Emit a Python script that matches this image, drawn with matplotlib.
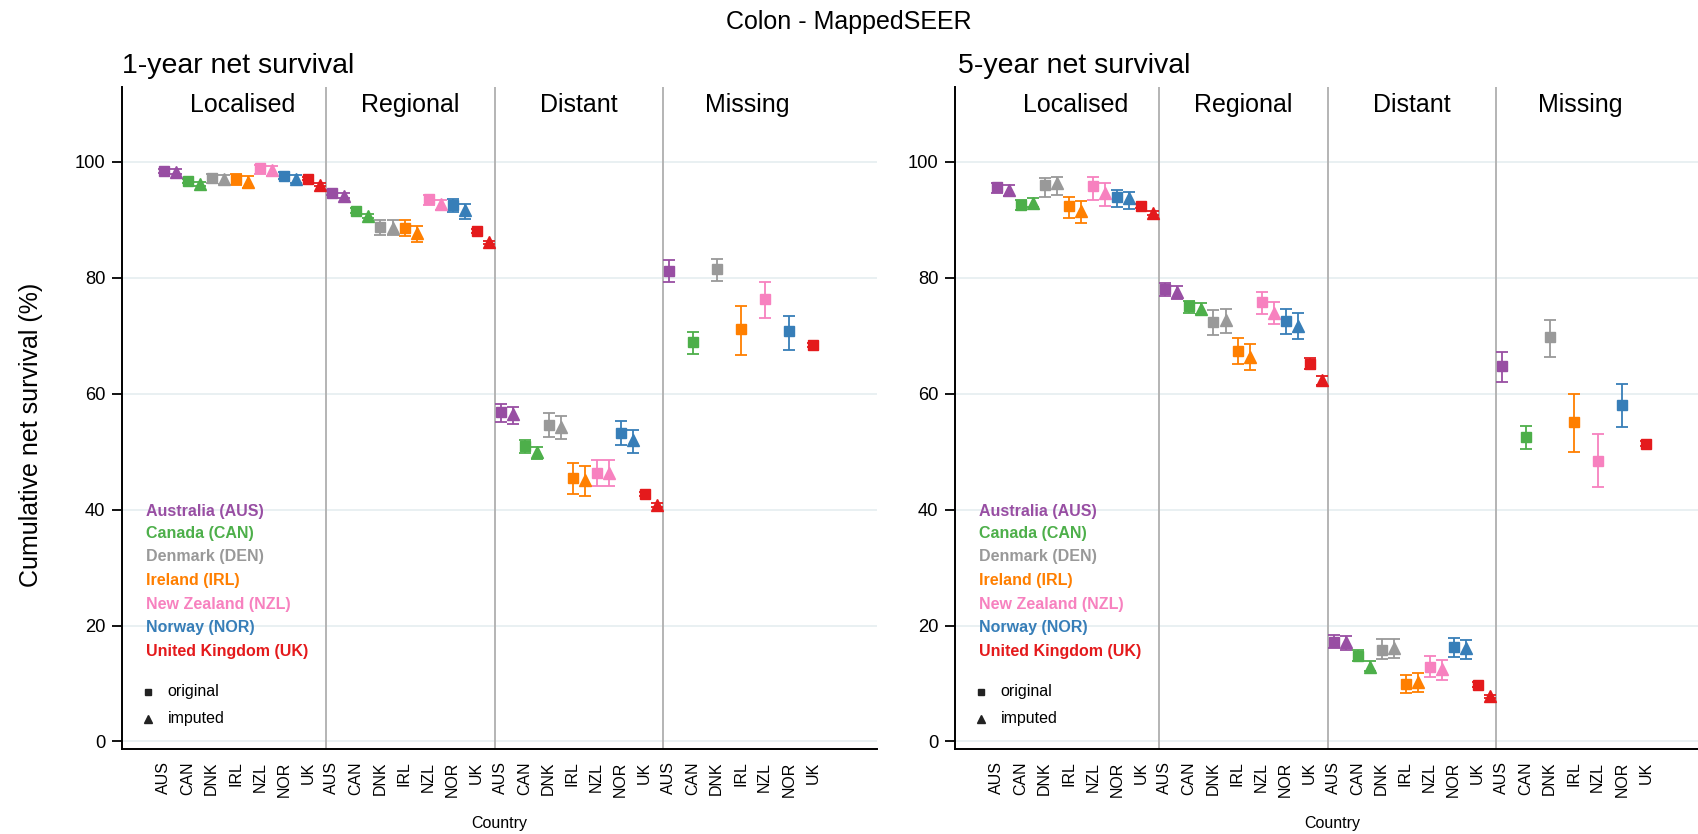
import matplotlib
matplotlib.use('Agg')
import matplotlib.pyplot as plt

plt.rcParams['font.family'] = ['Liberation Sans', 'DejaVu Sans']

# ---------------- data ----------------
countries = ['AUS', 'CAN', 'DNK', 'IRL', 'NZL', 'NOR', 'UK']
legend_names = ['Australia (AUS)', 'Canada (CAN)', 'Denmark (DEN)', 'Ireland (IRL)',
                'New Zealand (NZL)', 'Norway (NOR)', 'United Kingdom (UK)']
colors = ['#984ea3', '#4daf4a', '#999999', '#ff7f00', '#f781bf', '#377eb8', '#e41a1c']
stages = ['Localised', 'Regional', 'Distant', 'Missing']

# 1-year net survival: original (square)
y1_orig = [[98.45, 96.7, 97.2, 97.1, 98.9, 97.6, 97.1],
           [94.7, 91.6, 88.7, 88.6, 93.6, 92.5, 88.1],
           [56.8, 50.9, 54.6, 45.4, 46.3, 53.2, 42.7],
           [81.2, 68.9, 81.5, 71.2, 76.4, 70.8, 68.4]]
y1_orig_lo = [[98.1, 96.4, 96.4, 96.0, 98.0, 97.0, 96.8],
              [94.3, 91.2, 87.4, 87.2, 92.5, 91.4, 87.8],
              [55.2, 49.7, 52.5, 42.7, 44.0, 51.1, 42.3],
              [79.3, 66.8, 79.5, 66.7, 73.1, 67.5, 68.0]]
y1_orig_hi = [[98.8, 97.0, 98.0, 97.9, 99.5, 98.3, 97.4],
              [95.1, 92.0, 89.9, 89.9, 94.3, 93.6, 88.4],
              [58.2, 52.0, 56.7, 48.1, 48.6, 55.3, 43.1],
              [83.1, 70.7, 83.3, 75.1, 79.2, 73.4, 68.8]]
# 1-year net survival: imputed (triangle)
y1_imp = [[98.3, 96.2, 97.0, 96.6, 98.6, 97.0, 96.1],
          [94.2, 90.7, 88.6, 87.7, 92.7, 91.7, 86.1],
          [56.5, 49.9, 54.3, 45.1, 46.3, 52.0, 40.8]]
y1_imp_lo = [[97.9, 95.8, 96.2, 95.5, 97.5, 96.3, 95.8],
             [93.8, 90.3, 87.4, 86.1, 91.7, 90.2, 85.8],
             [54.7, 48.7, 52.2, 42.4, 44.0, 49.7, 40.4]]
y1_imp_hi = [[98.7, 96.6, 97.8, 97.5, 99.3, 97.8, 96.4],
             [94.6, 91.1, 89.9, 89.0, 93.5, 92.7, 86.4],
             [57.7, 50.8, 56.2, 47.5, 48.5, 53.7, 41.2]]

# 5-year net survival: original (square)
y5_orig = [[95.7, 92.6, 96.1, 92.4, 95.9, 94.0, 92.4],
           [78.05, 75.2, 72.3, 67.4, 75.8, 72.6, 65.2],
           [17.2, 14.8, 15.8, 10.0, 12.9, 16.3, 9.8],
           [64.8, 52.5, 69.8, 55.2, 48.4, 58.1, 51.4]]
y5_orig_lo = [[94.7, 91.7, 94.0, 90.4, 93.5, 92.2, 92.0],
              [76.9, 74.0, 70.2, 65.1, 73.7, 70.3, 64.2],
              [16.1, 13.8, 14.2, 8.4, 11.1, 14.6, 9.4],
              [62.1, 50.5, 66.4, 50.0, 43.9, 54.3, 51.0]]
y5_orig_hi = [[96.4, 93.4, 97.3, 94.0, 97.4, 95.1, 92.8],
              [79.1, 76.0, 74.4, 69.6, 77.6, 74.6, 66.1],
              [18.4, 15.7, 17.7, 11.5, 14.8, 17.9, 10.2],
              [67.2, 54.4, 72.8, 60.0, 53.1, 61.7, 51.8]]
# 5-year net survival: imputed (triangle)
y5_imp = [[95.1, 93.0, 96.3, 91.5, 94.7, 93.7, 91.2],
          [77.6, 74.6, 72.7, 66.4, 74.0, 71.7, 62.4],
          [17.1, 12.9, 16.1, 10.3, 12.5, 16.1, 7.8]]
y5_imp_lo = [[94.2, 92.2, 94.3, 89.5, 92.4, 91.8, 90.8],
             [76.3, 73.7, 70.5, 64.1, 72.0, 69.4, 61.5],
             [15.8, 12.2, 14.4, 8.6, 10.6, 14.3, 7.5]]
y5_imp_hi = [[96.1, 93.8, 97.4, 93.2, 96.4, 94.8, 91.6],
             [78.6, 75.6, 74.6, 68.6, 75.9, 73.9, 63.1],
             [18.2, 13.8, 17.7, 11.8, 14.1, 17.5, 8.1]]

yticks = [0, 20, 40, 60, 80, 100]

# ---------------- drawing ----------------
fig = plt.figure(figsize=(16.98, 8.34), dpi=100)

ax_w = 755 / 1698
ax_b = 85 / 834
ax_h = 662.4 / 834
ax1 = fig.add_axes([122 / 1698, ax_b, ax_w, ax_h])
ax2 = fig.add_axes([955 / 1698, ax_b, ax_w, ax_h])

OFF = 0.25
eb_kw = dict(capsize=4.6, elinewidth=1.3, capthick=1.3, linestyle='none', zorder=3)


def draw_panel(ax, est_o, lo_o, hi_o, est_i, lo_i, hi_i):
    for g in range(len(stages)):
        for c in range(len(countries)):
            pos = g * len(countries) + c
            col = colors[c]
            e = est_o[g][c]
            ax.errorbar(pos - OFF, e, yerr=[[e - lo_o[g][c]], [hi_o[g][c] - e]],
                        fmt='s', color=col, ms=6.8, **eb_kw)
            if g < len(est_i):
                e = est_i[g][c]
                ax.errorbar(pos + OFF, e, yerr=[[e - lo_i[g][c]], [hi_i[g][c] - e]],
                            fmt='^', color=col, ms=8.0, **eb_kw)
    # separators and stage labels
    for g in range(1, len(stages)):
        ax.axvline(g * 7 - 0.5, color='#b4b4b4', lw=1.4, zorder=1)
    for g, s in enumerate(stages):
        ax.text(g * 7 + 3, 109.8, s, ha='center', va='center', fontsize=18)

    ax.set_xlim(-2.0, 29.4)
    ax.set_ylim(-1.3, 113)
    ax.set_yticks(yticks)
    ax.yaxis.grid(True, color='#e7eff1', lw=1.3, zorder=0)
    ax.set_axisbelow(True)
    ticks = [g * 7 + c - 0.27 for g in range(len(stages)) for c in range(len(countries))]
    ax.set_xticks(ticks)
    ax.set_xticklabels(countries * len(stages), rotation=90, fontsize=11.5)
    ax.tick_params(axis='x', length=0, pad=9)
    ax.tick_params(axis='y', length=7, width=1.3, labelsize=13.2, pad=5)
    for sp in ['top', 'right']:
        ax.spines[sp].set_visible(False)
    ax.spines['left'].set_linewidth(1.4)
    ax.spines['bottom'].set_linewidth(1.4)

    # legend (colored text)
    ly = [39.7, 35.8, 31.9, 27.8, 23.6, 19.6, 15.5]
    for c in range(len(countries)):
        ax.text(-1.0, ly[c], legend_names[c], color=colors[c], fontsize=11.5,
                fontweight='bold', ha='left', va='center')
    ax.plot([-0.93], [8.6], 's', color='#222222', ms=5.0, clip_on=False)
    ax.plot([-0.93], [3.9], '^', color='#222222', ms=6.0, clip_on=False)
    ax.text(-0.1, 8.6, 'original', fontsize=11.5, ha='left', va='center')
    ax.text(-0.1, 3.9, 'imputed', fontsize=11.5, ha='left', va='center')
    ax.text(0.5, -0.112, 'Country', transform=ax.transAxes, ha='center',
            va='center', fontsize=11.5)


draw_panel(ax1, y1_orig, y1_orig_lo, y1_orig_hi, y1_imp, y1_imp_lo, y1_imp_hi)
draw_panel(ax2, y5_orig, y5_orig_lo, y5_orig_hi, y5_imp, y5_imp_lo, y5_imp_hi)

fig.text(0.5, 1 - 22 / 834, 'Colon - MappedSEER', ha='center', va='center', fontsize=18)
fig.text(122 / 1698, 1 - 66 / 834, '1-year net survival', ha='left', va='center', fontsize=20.5)
fig.text(958 / 1698, 1 - 66 / 834, '5-year net survival', ha='left', va='center', fontsize=20.5)
fig.text(31 / 1698, 1 - 435 / 834, 'Cumulative net survival (%)', rotation=90,
         ha='center', va='center', fontsize=18)

fig.savefig('out.png', dpi=100)
